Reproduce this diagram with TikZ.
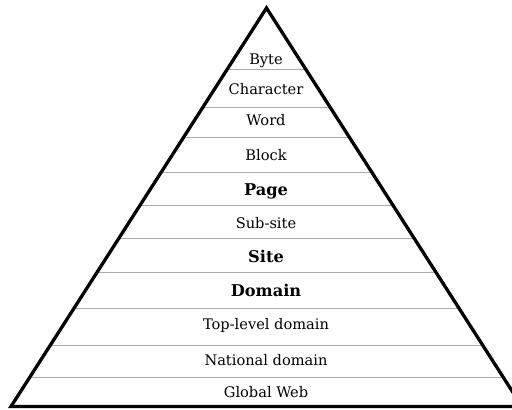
\documentclass[tikz,border=0pt]{standalone}
\usepackage{fontspec}
\setmainfont{DejaVu Serif}
\begin{document}
\begin{tikzpicture}[x=1pt,y=-1pt,
  lvl/.style={anchor=base,inner sep=0pt,font=\fontsize{14.6}{17}\selectfont},
  lvlb/.style={lvl,font=\fontsize{16.2}{19}\selectfont\bfseries},
  sep/.style={draw=black!33,line width=1pt},
  tri/.style={draw=black,line width=3.3pt,line join=miter}]
\useasboundingbox (0,0) rectangle (512,410);
\coordinate (apex) at (266.5,8);
\coordinate (bl) at (11,406.5);
\coordinate (br) at (522,406.5);
\begin{scope}
  \clip (apex) -- (bl) -- (br) -- cycle;
  \foreach \yy in {69,107,137,172,205,238,272,308,345,377}
    \draw[sep] (0,\yy) -- (512,\yy);
\end{scope}
\draw[tri] (apex) -- (bl) -- (br) -- cycle;
\node[lvl]  (byte) at (266,64)    {Byte};
\node[lvl]  (char) at (266,94)    {Character};
\node[lvl]  (word) at (266,125)   {Word};
\node[lvl]  (block) at (266,160)  {Block};
\node[lvlb] (page) at (266,195)   {Page};
\node[lvl]  (subsite) at (266,228){Sub-site};
\node[lvlb] (site) at (266,262)   {Site};
\node[lvlb] (domain) at (266,296.5){Domain};
\node[lvl]  (tld) at (266,329.5)  {Top-level domain};
\node[lvl]  (nat) at (266,365)    {National domain};
\node[lvl]  (web) at (266,397)    {Global Web};
\end{tikzpicture}
\end{document}
